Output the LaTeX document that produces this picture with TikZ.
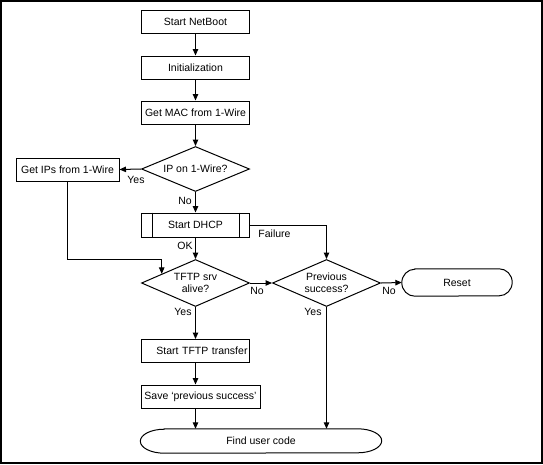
\documentclass[tikz,border=0pt]{standalone}
\usepackage{fontspec}
\setmainfont{Liberation Sans}
\usetikzlibrary{shapes.geometric,arrows.meta,calc}
\newcommand{\flowfont}{\fontsize{10.5}{12}\selectfont}

\begin{document}
\begin{tikzpicture}[x=1pt,y=-1pt,line join=miter,
  >={Triangle[length=6.5pt,width=5.5pt]},
  box/.style={draw,line width=1pt,minimum width=108pt,minimum height=23pt,inner sep=1pt,font=\flowfont},
  decision/.style={draw,diamond,line width=1pt,minimum width=108pt,minimum height=47pt,
    inner sep=0pt,aspect=2.3,align=center,font=\flowfont},
  terminal/.style={inner sep=1pt,font=\flowfont},
  outline/.style={draw,line width=1pt},
  flow/.style={->,line width=1pt},
  lbl/.style={font=\flowfont,inner sep=1pt}]
  \useasboundingbox (0,0) rectangle (543,464);
  \draw[line width=1.6pt] (1,1) rectangle (542,463);

  % ---- main column ----
  \node[box] (start) at (195.5,21.5) {Start NetBoot};
  \node[box] (init) at (195.5,67.5) {Initialization};
  \node[box] (mac) at (195.5,112.5) {Get MAC from 1-Wire};
  \node[decision,minimum height=45pt] (ipq) at (195.5,169) {IP on 1-Wire?};
  \node[box,minimum width=103pt] (getips) at (67.5,169.5) {Get IPs from 1-Wire};
  \node[box,minimum height=24pt] (dhcp) at (195.5,225) {Start DHCP};
  \draw[outline] ([xshift=11pt]dhcp.north west) -- ([xshift=11pt]dhcp.south west)
    ([xshift=-11pt]dhcp.north east) -- ([xshift=-11pt]dhcp.south east);
  \node[decision] (tftpq) at (195.5,283) {TFTP srv\\alive?};
  \node[decision] (prevq) at (326.5,283) {Previous\\success?};
  \node[box,text width=104pt,align=right] (tftp) at (195.5,351) {Start TFTP transfer};
  \node[box,minimum width=119pt] (save) at (200.5,396.5) {Save `previous success'};

  % ---- terminals ----
  \node[terminal,minimum width=110pt,minimum height=27pt] (reset) at (457,282.5) {Reset};
  \draw[outline] ([xshift=13pt]reset.north west) -- ([xshift=-13pt]reset.north east)
    arc[start angle=90,end angle=-90,x radius=13pt,y radius=13.5pt]
    -- ([xshift=13pt]reset.south west)
    arc[start angle=270,end angle=90,x radius=13pt,y radius=13.5pt] -- cycle;
  \node[terminal,minimum width=241pt,minimum height=24pt] (find) at (261,441) {Find user code};
  \draw[outline] ([xshift=24pt]find.north west) -- ([xshift=-24pt]find.north east)
    arc[start angle=90,end angle=-90,x radius=24pt,y radius=12pt]
    -- ([xshift=24pt]find.south west)
    arc[start angle=270,end angle=90,x radius=24pt,y radius=12pt] -- cycle;

  % ---- connectors ----
  \draw[flow] (start) -- (init);
  \draw[flow] (init) -- (mac);
  \draw[flow] (mac) -- (ipq);
  \draw[flow] (ipq.west) -- (getips.east);
  \draw[flow] (ipq.south) -- (dhcp.north);
  \coordinate (ipin) at ($(tftpq.north)!0.62!(tftpq.west)$);
  \draw[flow] (getips.south) |- ($(ipin)+(0,-14)$) -- (ipin);
  \draw[flow] (dhcp.south) -- (tftpq.north);
  \draw[flow] (dhcp.east) -| (prevq.north);
  \draw[flow] (tftpq.east) -- (prevq.west);
  \draw[flow] (prevq.east) -- (reset.west);
  \draw[flow] (tftpq.south) -- (tftp.north);
  \draw[flow] (tftp.south) -- (tftp.south |- save.north);
  \draw[flow] (tftp.south |- save.south) -- (tftp.south |- find.north);
  \draw[flow] (prevq.south) -- (prevq.south |- find.north);

  % ---- branch labels ----
  \node[lbl] (yes1) at (136,179.5) {Yes};
  \node[lbl] (no1) at (185,200.5) {No};
  \node[lbl] (ok) at (185,245.5) {OK};
  \node[lbl] (fail) at (274.5,234) {Failure};
  \node[lbl] (no2) at (257,291) {No};
  \node[lbl] (no3) at (389,291) {No};
  \node[lbl] (yes2) at (183,312) {Yes};
  \node[lbl] (yes3) at (313,312) {Yes};
\end{tikzpicture}
\end{document}
